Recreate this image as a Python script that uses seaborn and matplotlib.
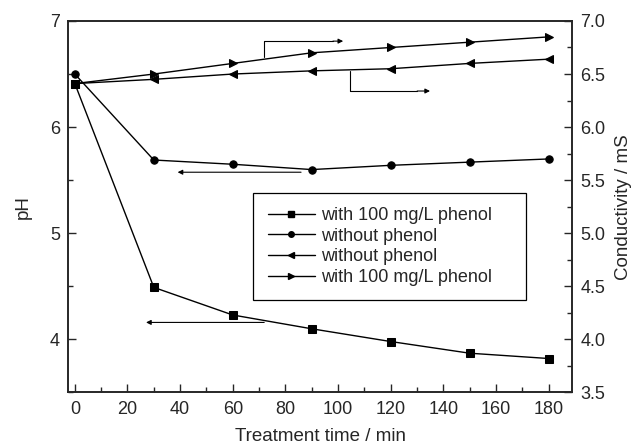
import numpy as np
import pandas as pd
import seaborn as sns
import matplotlib.pyplot as plt
from matplotlib.lines import Line2D
from matplotlib.ticker import MultipleLocator, FormatStrFormatter

# =============================================================================
# Data
# =============================================================================
time_min = [0, 30, 60, 90, 120, 150, 180]
ph_with_phenol = [6.41, 4.49, 4.23, 4.10, 3.98, 3.87, 3.82]
ph_without_phenol = [6.50, 5.69, 5.65, 5.60, 5.64, 5.67, 5.70]
cond_without_phenol = [6.41, 6.45, 6.50, 6.53, 6.55, 6.60, 6.64]
cond_with_phenol = [6.41, 6.50, 6.60, 6.70, 6.75, 6.80, 6.85]

legend_labels = ["with 100 mg/L phenol", "without phenol",
                 "without phenol", "with 100 mg/L phenol"]

# =============================================================================
# Plot
# =============================================================================
sns.set_style("ticks")
plt.rcParams['font.family'] = ['Liberation Sans', 'DejaVu Sans']

fig, ax = plt.subplots(figsize=(6.38, 4.46), dpi=100)
ax2 = ax.twinx()

line_kw = dict(color='black', linewidth=1.0, markersize=5.3, markeredgecolor='black')
sns.lineplot(x=time_min, y=ph_with_phenol, marker='s', ax=ax, **line_kw)
sns.lineplot(x=time_min, y=ph_without_phenol, marker='o', ax=ax, **line_kw)
sns.lineplot(x=time_min, y=cond_without_phenol, marker='<', ax=ax2, **line_kw)
sns.lineplot(x=time_min, y=cond_with_phenol, marker='>', ax=ax2, **line_kw)

ax.set_xlim(-2.5, 189)
ax.set_ylim(3.5, 7.0)
ax2.set_ylim(3.5, 7.0)

ax.xaxis.set_major_locator(MultipleLocator(20))
ax.xaxis.set_minor_locator(MultipleLocator(10))
ax.yaxis.set_major_locator(MultipleLocator(1))
ax.yaxis.set_minor_locator(MultipleLocator(0.5))
ax2.yaxis.set_major_locator(MultipleLocator(0.5))
ax2.yaxis.set_minor_locator(MultipleLocator(0.25))
ax2.yaxis.set_major_formatter(FormatStrFormatter('%.1f'))

for a in (ax, ax2):
    a.tick_params(which='major', direction='in', length=6, width=1,
                  labelsize=13, pad=6)
    a.tick_params(which='minor', direction='in', length=3.5, width=1)
    for s in a.spines.values():
        s.set_linewidth(1.2)
        s.set_visible(True)
ax.tick_params(axis='y', which='both', right=False)
ax.tick_params(axis='x', which='both', top=False)

ax.set_xlabel("Treatment time / min", fontsize=13.5, labelpad=7)
ax.set_ylabel("pH", fontsize=13.5, labelpad=13)
ax2.set_ylabel("Conductivity / mS", fontsize=13.5, labelpad=7)

# arrows indicating the axis of each curve
arr = dict(arrowstyle='-|>', color='black', lw=0.8, mutation_scale=7)
ax.annotate("", xy=(38, 5.575), xytext=(87, 5.575), arrowprops=arr)
ax.annotate("", xy=(26, 4.16), xytext=(73, 4.16), arrowprops=arr)
ax2.plot([72, 72, 98], [6.66, 6.81, 6.81], color='black', lw=0.8)
ax2.annotate("", xy=(103, 6.81), xytext=(97, 6.81), arrowprops=arr)
ax2.plot([104.5, 104.5, 130], [6.53, 6.34, 6.34], color='black', lw=0.8)
ax2.annotate("", xy=(136, 6.34), xytext=(129, 6.34), arrowprops=arr)

markers = ['s', 'o', '<', '>']
handles = [Line2D([0], [0], color='black', lw=1.0, marker=m, markersize=4)
           for m in markers]
leg = ax.legend(handles, legend_labels, loc='upper left',
                bbox_to_anchor=(0.367, 0.538, 0.542, 0.0), mode='expand',
                borderaxespad=0, fontsize=13, frameon=True,
                fancybox=False, edgecolor='black', framealpha=1,
                handlelength=2.6, labelspacing=0.2, borderpad=0.8,
                handletextpad=0.35)
leg.get_frame().set_linewidth(0.9)

fig.subplots_adjust(left=0.107, right=0.897, top=0.953, bottom=0.12)
fig.savefig("out.png", dpi=100)
